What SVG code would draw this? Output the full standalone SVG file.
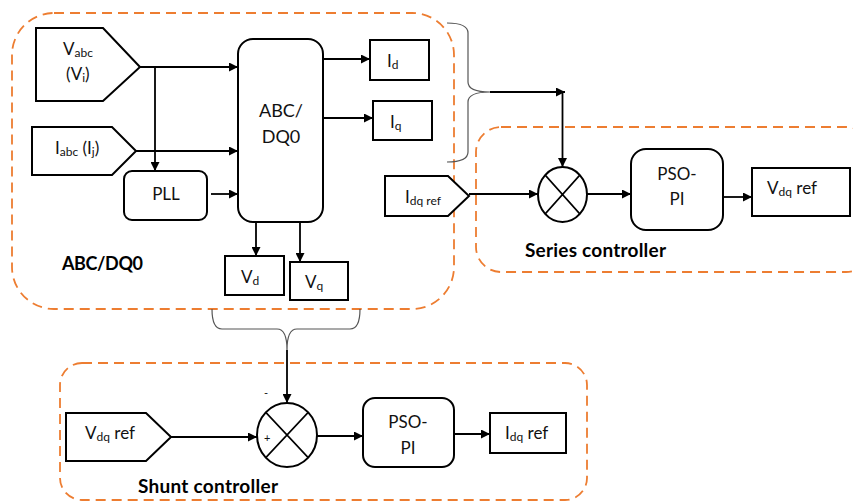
<svg xmlns="http://www.w3.org/2000/svg" width="853" height="502" viewBox="0 0 853 502">
<defs>
<marker id="ah" viewBox="0 0 10 10" refX="10" refY="5" markerWidth="11" markerHeight="9" markerUnits="userSpaceOnUse" orient="auto"><path d="M0,0 L10,5 L0,10 z" fill="#000"/></marker>
</defs>
<style>
.grp{fill:none;stroke:#ED7D31;stroke-width:1.8;stroke-dasharray:10 6}
.box{fill:#fff;stroke:#000;stroke-width:2}
.ln{fill:none;stroke:#000;stroke-width:1.6}
.arr{fill:none;stroke:#000;stroke-width:1.8;marker-end:url(#ah)}
.brace{fill:none;stroke:#555;stroke-width:1.2}
text{font-family:Lato,"Liberation Sans",sans-serif;font-size:17px;fill:#111}
.sub{font-size:12px}
.b{font-weight:bold;font-size:19px;fill:#000}
.c{text-anchor:middle}
.big{font-size:18px}
.sm{font-size:11px}
</style>
<rect width="853" height="502" fill="#fff"/>

<g id="containers">
<rect id="abc-group" class="grp" x="12" y="13" width="442" height="296" rx="42"/>
<rect id="series-group" class="grp" x="476" y="127" width="395" height="145" rx="25"/>
<rect id="shunt-group" class="grp" x="60" y="363" width="527" height="137" rx="22"/>
</g>

<g id="connectors">
<path class="arr" d="M140,67 H238"/>
<path class="arr" d="M155,67 V171"/>
<path class="arr" d="M136,151 H238"/>
<path class="arr" d="M211,194 H238"/>
<path class="arr" d="M323,59 H370"/>
<path class="arr" d="M323,118 H373"/>
<path class="arr" d="M256,222 V256"/>
<path class="arr" d="M300,222 V262"/>
<path class="brace" d="M447,23 Q468,23 468,33 V82 Q468,92 490,92 Q468,92 468,102 V152 Q468,162 447,162"/>
<path class="arr" d="M490,92 H565"/>
<path class="arr" d="M562.5,92 V167"/>
<path class="arr" d="M469,194 H538"/>
<path class="arr" d="M587,194 H631"/>
<path class="arr" d="M723,197 H752"/>
<path class="brace" d="M212,309 Q212,329 222,329 H277 Q287,329 287,350 Q287,329 297,329 H350 Q360,329 360,309"/>
<path class="arr" d="M287,350 V403"/>
<path class="arr" d="M171,437 H257"/>
<path class="arr" d="M317,436 H363"/>
<path class="arr" d="M454,434 H490"/>
</g>

<g id="vabc">
<polygon class="box" points="36,28 103,28 140,67 103,101 36,101"/>
<text x="63" y="55">V<tspan class="sub" dy="2">abc</tspan></text>
<text x="66" y="80">(V<tspan class="sub" dy="2">i</tspan><tspan dy="-2">)</tspan></text>
</g>
<g id="iabc">
<polygon class="box" points="32,127 112,127 136,151 112,175 32,175"/>
<text x="55" y="154">I<tspan class="sub" dy="2">abc</tspan><tspan dy="-2"> (I</tspan><tspan class="sub" dy="2">j</tspan><tspan dy="-2">)</tspan></text>
</g>
<g id="pll">
<rect class="box" x="124" y="171" width="83" height="49" rx="8"/>
<text class="c" x="166" y="200">PLL</text>
</g>
<g id="abcdq0">
<rect class="box" x="238" y="39" width="85" height="183" rx="15"/>
<text class="c big" x="281" y="117">ABC/</text>
<text class="c big" x="281" y="143">DQ0</text>
</g>
<g id="id">
<rect class="box" x="370" y="40" width="59" height="40"/>
<text x="387" y="67">I<tspan class="sub" dy="2">d</tspan></text>
</g>
<g id="iq">
<rect class="box" x="373" y="101" width="59" height="39"/>
<text x="390" y="128">I<tspan class="sub" dy="2">q</tspan></text>
</g>
<g id="vd">
<rect class="box" x="225" y="256" width="59" height="39"/>
<text x="241" y="283">V<tspan class="sub" dy="2">d</tspan></text>
</g>
<g id="vq">
<rect class="box" x="290" y="262" width="58" height="38"/>
<text x="305" y="288">V<tspan class="sub" dy="2">q</tspan></text>
</g>
<g id="abc-label">
<text class="b" x="62" y="270" style="font-size:18px" textLength="81">ABC/DQ0</text>
</g>

<g id="idqref-in">
<polygon class="box" points="385,176 448,176 469,196 448,216 385,216"/>
<text x="405" y="203">I<tspan class="sub" dy="2">dq ref</tspan></text>
</g>
<g id="sum-series">
<ellipse class="box" cx="562.5" cy="194.5" rx="24.5" ry="27.5"/>
<path class="ln" d="M545.2,175.1 L579.8,213.9 M579.8,175.1 L545.2,213.9"/>
</g>
<g id="pso-series">
<rect class="box" x="631" y="149" width="92" height="81" rx="15"/>
<text class="c" x="677" y="180">PSO-</text>
<text class="c" x="677" y="205">PI</text>
</g>
<g id="vdqref-out">
<rect class="box" x="752" y="168" width="98" height="48"/>
<text x="767" y="194">V<tspan class="sub" dy="2">dq</tspan><tspan dy="-2"> ref</tspan></text>
</g>
<g id="series-label">
<text class="b" x="525" y="257" textLength="141">Series controller</text>
</g>

<g id="vdqref-in">
<polygon class="box" points="66,413 146,413 171,437 146,461 66,461"/>
<text x="85" y="439">V<tspan class="sub" dy="2">dq</tspan><tspan dy="-2"> ref</tspan></text>
</g>
<g id="sum-shunt">
<ellipse class="box" cx="287" cy="435" rx="30" ry="32"/>
<path class="ln" d="M265.8,412.4 L308.2,457.6 M308.2,412.4 L265.8,457.6"/>
<text class="sm" x="264" y="397">-</text>
<text class="sm" x="264" y="442">+</text>
</g>
<g id="pso-shunt">
<rect class="box" x="363" y="398" width="91" height="69" rx="12"/>
<text class="c" x="408" y="428">PSO-</text>
<text class="c" x="408" y="454">PI</text>
</g>
<g id="idqref-out">
<rect class="box" x="490" y="413" width="76" height="40"/>
<text x="505" y="439">I<tspan class="sub" dy="2">dq</tspan><tspan dy="-2"> ref</tspan></text>
</g>
<g id="shunt-label">
<text class="b" x="138" y="493" textLength="140">Shunt controller</text>
</g>
</svg>
